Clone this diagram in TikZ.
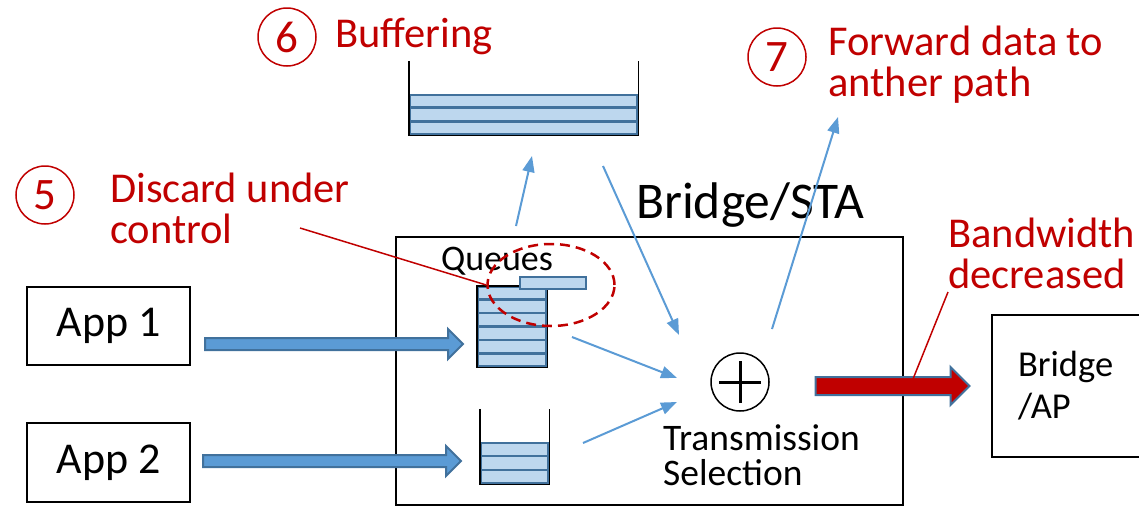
\documentclass[tikz,border=0pt]{standalone}
\usepackage{fontspec}
\setmainfont{Carlito}
\usepackage{tikz}
\usetikzlibrary{shapes.geometric,shapes.arrows,arrows.meta,calc}
\definecolor{mired}{HTML}{C00000}
\definecolor{miblue}{HTML}{5B9BD5}
\definecolor{miedge}{HTML}{41719C}
\definecolor{mifill}{HTML}{BDD7EE}
\newcommand{\fs}[1]{\fontsize{#1}{#1}\selectfont}
\tikzset{
    box/.style = {rectangle, draw=black, line width=1.5pt, inner sep=0pt},
    note/.style = {text=mired, align=left, anchor=west, inner sep=0pt, font=\fontsize{42.5}{41}\selectfont},
    num/.style = {circle, draw=mired, line width=1.5pt, text=mired, minimum size=58pt, inner sep=0pt, font=\fs{45}},
    cell/.style = {rectangle, draw=miedge, line width=2.5pt, fill=mifill, inner sep=0pt},
    wall/.style = {black, line width=1.5pt},
    flow/.style = {miblue, line width=2pt, -{Triangle[length=16pt,width=12pt]}},
    pointer/.style = {mired, line width=1.5pt},
    fat/.style = {single arrow, draw=miedge, line width=2pt, inner sep=0pt, minimum width=30pt, single arrow head extend=9pt, single arrow head indent=0pt, text height=5pt, text depth=5pt}
}

\begin{document}
\begin{tikzpicture}[x=1pt, y=-1pt]
\useasboundingbox (0,0) rectangle (1139,509);
% boxes
\node (app1) [box, minimum width=163pt, minimum height=78pt, font=\fs{44}] at (108.5,326) {App 1};
\node (app2) [box, minimum width=163pt, minimum height=79pt, font=\fs{44}] at (108.5,462.5) {App 2};
\node (sta) [box, minimum width=507pt, minimum height=268pt] at (649.5,371) {};
\node (stalabel) [anchor=base west, inner sep=0pt, font=\fs{51.5}] at (636,218) {Bridge/STA};
\node (ap) [box, minimum width=170pt, minimum height=142pt, text width=118pt, inner xsep=26pt, align=left, font=\fontsize{36.5}{42}\selectfont] at (1077,386) {Bridge\\/AP};

% queues
\node (q1) [cell, minimum width=68pt, minimum height=79pt] at (512,326.5) {};
\foreach \i in {1,...,5}
    \draw [miedge, line width=2.5pt] ($(q1.north west)!\i/6!(q1.south west)$) -- ($(q1.north east)!\i/6!(q1.south east)$);
\draw [wall] (q1.north west) rectangle (q1.south east);
\node (pkt) [cell, minimum width=66pt, minimum height=12pt] at (553,283) {};
\node (queues) [inner sep=0pt, font=\fs{36}] at (497,261) {Queues};

\node (q2) [cell, minimum width=67pt, minimum height=40pt] at (514.5,463) {};
\foreach \i in {1,2}
    \draw [miedge, line width=2.5pt] ($(q2.north west)!\i/3!(q2.south west)$) -- ($(q2.north east)!\i/3!(q2.south east)$);
\draw [wall] ([yshift=33pt]q2.north west) -- (q2.south west) -- (q2.south east) -- ([yshift=33pt]q2.north east);

\node (buf) [cell, minimum width=227pt, minimum height=39pt] at (523.5,114.5) {};
\foreach \i in {1,2}
    \draw [miedge, line width=2.5pt] ($(buf.north west)!\i/3!(buf.south west)$) -- ($(buf.north east)!\i/3!(buf.south east)$);
\draw [wall] ([yshift=33pt]buf.north west) -- (buf.south west) -- (buf.south east) -- ([yshift=33pt]buf.north east);

% selector
\node (plus) [circle, draw=black, line width=1.5pt, minimum size=58pt, inner sep=0pt] at (740,382) {};
\draw [black, line width=3pt] ([xshift=-21pt]plus.center) -- ([xshift=21pt]plus.center) ([yshift=-21pt]plus.center) -- ([yshift=21pt]plus.center);
\node (sel) [anchor=north west, align=left, inner sep=0pt, font=\fontsize{37.5}{35}\selectfont] at (663,424) {Transmission\\Selection};

% notes
\node (n5) [num] at (45,195) {5};
\node (discard) [note] at (110,208) {Discard under\\control};
\node (n6) [num] at (287,37) {6};
\node (buffering) [note] at (335,36) {Buffering};
\node (n7) [num] at (777,57) {7};
\node (forward) [note] at (828,65) {Forward data to\\anther path};
\node (bw) [note] at (948,253) {Bandwidth\\decreased};
\node (drop) [ellipse, draw=mired, line width=2.5pt, dash pattern=on 10pt off 6pt, minimum width=127pt, minimum height=82pt] at (551,285) {};

% fat arrows
\node (in1) [fat, fill=miblue, minimum height=258pt] at (331,344) {};
\node (in2) [fat, fill=miblue, minimum height=258pt] at (329,461) {};
\node (out) [fat, fill=mired, minimum height=154pt, minimum width=37pt, single arrow head extend=10pt, text height=8pt, text depth=8pt] at (888,386) {};

% flows
\coordinate (q1up) at (516,226);
\coordinate (bufin) at (532,156);
\coordinate (bufout) at (603,166);
\coordinate (plusa) at (679,335);
\coordinate (q1out) at (572,337);
\coordinate (plusb) at (677,378);
\coordinate (q2out) at (583,443);
\coordinate (plusc) at (677,402);
\coordinate (fwdout) at (772,329);
\coordinate (fwdend) at (838,117);
\draw [flow] (q1up) -- (bufin);
\draw [flow] (bufout) -- (plusa);
\draw [flow] (q1out) -- (plusb);
\draw [flow] (q2out) -- (plusc);
\draw [flow] (fwdout) -- (fwdend);

% pointers
\coordinate (discardend) at (300,228);
\coordinate (bwend) at (948,292);
\coordinate (outhit) at (913,379);
\draw [pointer] (discardend) -- (drop.west);
\draw [pointer] (bwend) -- (outhit);
\end{tikzpicture}
\end{document}
